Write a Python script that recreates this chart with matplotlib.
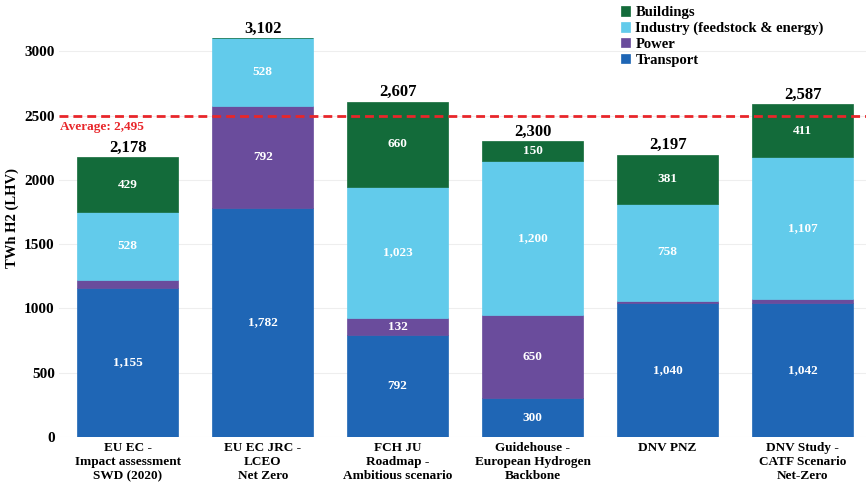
import matplotlib
matplotlib.use("Agg")
import matplotlib.pyplot as plt
import numpy as np

plt.rcParams['font.family'] = ['Liberation Serif', 'DejaVu Serif']
plt.rcParams['font.weight'] = 'bold'

scenarios = [
    "EU EC -\nImpact assessment\nSWD (2020)",
    "EU EC JRC -\nLCEO\nNet Zero",
    "FCH JU\nRoadmap -\nAmbitious scenario",
    "Guidehouse -\nEuropean Hydrogen\nBackbone",
    "DNV PNZ",
    "DNV Study -\nCATF Scenario\nNet-Zero",
]
transport = [1155, 1782, 792, 300, 1040, 1042]
power = [66, 792, 132, 650, 18, 27]
industry = [528, 528, 1023, 1200, 758, 1107]
buildings = [429, 0, 660, 150, 381, 411]
average = 2495

series = [
    ("Transport", transport, "#1F66B5"),
    ("Power", power, "#6A4C9C"),
    ("Industry (feedstock & energy)", industry, "#62CBEB"),
    ("Buildings", buildings, "#136B3A"),
]
min_labelled = 100

fig = plt.figure(figsize=(8.66, 4.87), dpi=100)
ax = fig.add_axes([0.068, 0.103, 0.932, 0.897])

x = np.arange(len(scenarios))
bottom = np.zeros(len(scenarios))
handles = {}
for name, vals, color in series:
    vals = np.array(vals, dtype=float)
    bars = ax.bar(x, vals, width=0.75, bottom=bottom, color=color,
                  edgecolor=color, linewidth=0.5, zorder=2, label=name)
    handles[name] = bars
    for xi, b, v in zip(x, bottom, vals):
        if v >= min_labelled:
            ax.text(xi, b + v / 2, f"{int(v):,}", ha="center", va="center",
                    color="white", fontsize=9.5, fontweight="bold", zorder=3)
    bottom += vals

for xi, total in zip(x, bottom):
    ax.text(xi, total + 12, f"{int(total):,}", ha="center", va="bottom",
            color="black", fontsize=12, fontweight="bold", zorder=3)

ax.axhline(average, color="#E8262A", linestyle=(0, (3.2, 1.8)), linewidth=2.0, zorder=4)
ax.text(-0.5, average - 40, f"Average: {average:,}", ha="left", va="top",
        color="#E8262A", fontsize=9.5, fontweight="bold", zorder=4)

ax.set_xlim(-0.51, 5.47)
ax.set_ylim(0, 3400)
ax.set_yticks([0, 500, 1000, 1500, 2000, 2500, 3000])
ax.set_yticklabels(["0", "500", "1000", "1500", "2000", "2500", "3000"])
ax.set_xticks(x)
ax.set_xticklabels(scenarios, linespacing=1.2)
ax.tick_params(axis="both", length=0, labelsize=11)
ax.tick_params(axis="x", labelsize=9.5, pad=4)
ax.tick_params(axis="y", pad=3)
for lbl in ax.get_yticklabels() + ax.get_xticklabels():
    lbl.set_fontweight("bold")
ax.set_ylabel("TWh H2 (LHV)", fontsize=10.5, fontweight="bold", labelpad=4)

ax.grid(axis="y", color="#EEEEEE", linewidth=0.8, zorder=0)
for s in ax.spines.values():
    s.set_visible(False)

order = ["Buildings", "Industry (feedstock & energy)", "Power", "Transport"]
leg = ax.legend([handles[n] for n in order], order, loc="upper left",
                bbox_to_anchor=(0.689, 0.999), frameon=False, fontsize=10.5,
                handlelength=0.6, handleheight=0.6, handletextpad=0.4,
                labelspacing=0.18, borderaxespad=0)
for t in leg.get_texts():
    t.set_fontweight("bold")

fig.savefig("out.png", dpi=100)
